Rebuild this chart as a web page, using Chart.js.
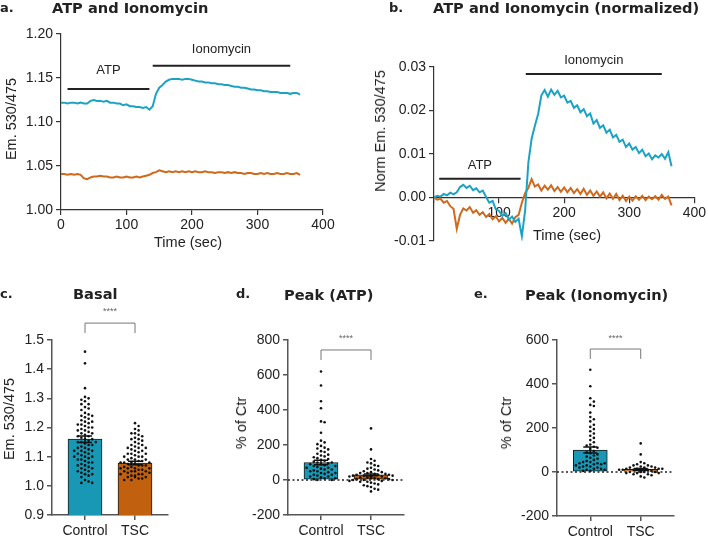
<!DOCTYPE html>
<html>
<head>
<meta charset="utf-8">
<script src="https://cdn.jsdelivr.net/npm/chart.js@4.4.1/dist/chart.umd.min.js"></script>
<style>
  body { margin: 0; background: #fff; }
  #fig { position: relative; width: 708px; height: 537px; overflow: hidden; }
  #fig canvas { position: absolute; }
  .t { position: absolute; font: bold 14.6px "DejaVu Sans"; line-height: 16px; color: #222; white-space: nowrap; }
  .ax { position: absolute; font: 14.5px "Liberation Sans"; color: #222; white-space: nowrap; transform: translate(-50%, -50%); }
  .rot { transform: translate(-50%, -50%) rotate(-90deg); }
</style>
</head>
<body>
<div id="fig">
  <canvas id="cA" width="354" height="260" style="left:0;top:0"></canvas>
  <canvas id="cB" width="354" height="260" style="left:354px;top:0"></canvas>
  <canvas id="cC" width="236" height="287" style="left:0;top:250px"></canvas>
  <canvas id="cD" width="246" height="287" style="left:226px;top:250px"></canvas>
  <canvas id="cE" width="236" height="287" style="left:472px;top:250px"></canvas>

  <div class="t" style="left:0;top:0;font-size:13px">a.</div>
  <div class="t" style="left:52px;top:0">ATP and Ionomycin</div>
  <div class="t" style="left:389px;top:0;font-size:13px">b.</div>
  <div class="t" style="left:433px;top:0">ATP and Ionomycin (normalized)</div>
  <div class="t" style="left:0;top:286px;font-size:13px">c.</div>
  <div class="t" style="left:73px;top:286px">Basal</div>
  <div class="t" style="left:236px;top:286px;font-size:13px">d.</div>
  <div class="t" style="left:284px;top:287px">Peak (ATP)</div>
  <div class="t" style="left:474px;top:286px;font-size:13px">e.</div>
  <div class="t" style="left:525px;top:287px">Peak (Ionomycin)</div>

  <div class="ax rot" style="left:11px;top:119px">Em. 530/475</div>
  <div class="ax" style="left:188px;top:242px">Time (sec)</div>
  <div class="ax rot" style="left:380px;top:131px">Norm Em. 530/475</div>
  <div class="ax" style="left:567px;top:235px">Time (sec)</div>
  <div class="ax rot" style="left:9px;top:419px">Em. 530/475</div>
  <div class="ax rot" style="left:241px;top:423px">% of Ctr</div>
  <div class="ax rot" style="left:506px;top:423px">% of Ctr</div>
</div>

<script>
// ---- traces (a, b) ----
const timeSec = [0,5,10,15,20,25,30,35,40,45,50,55,60,65,70,75,80,85,90,95,100,105,110,115,120,125,130,135,140,145,
  150,155,160,165,170,175,180,185,190,195,200,205,210,215,220,225,230,235,240,245,250,255,260,265,270,275,280,285,290,295,
  300,305,310,315,320,325,330,335,340,345,350,355,360,365];

const ctrlRaw = [1.122,1.122,1.121,1.122,1.122,1.121,1.122,1.121,1.121,1.124,
  1.125,1.124,1.124,1.123,1.124,1.122,1.122,1.121,1.121,1.119,
  1.120,1.118,1.118,1.117,1.117,1.116,1.117,1.114,1.118,1.132,
  1.139,1.142,1.146,1.148,1.149,1.149,1.149,1.148,1.149,1.149,
  1.148,1.147,1.146,1.146,1.145,1.145,1.144,1.144,1.143,1.143,
  1.142,1.142,1.141,1.140,1.140,1.139,1.139,1.138,1.137,1.137,
  1.136,1.136,1.135,1.135,1.134,1.134,1.134,1.133,1.133,1.133,
  1.132,1.133,1.133,1.131];
const tscRaw = [1.041,1.041,1.040,1.041,1.040,1.041,1.040,1.036,1.035,1.037,
  1.038,1.038,1.039,1.038,1.038,1.037,1.037,1.038,1.037,1.037,
  1.038,1.037,1.037,1.038,1.037,1.038,1.039,1.040,1.042,1.043,
  1.045,1.044,1.043,1.044,1.043,1.044,1.043,1.044,1.043,1.044,
  1.043,1.044,1.043,1.043,1.044,1.043,1.043,1.042,1.043,1.043,
  1.042,1.043,1.042,1.043,1.042,1.042,1.041,1.042,1.042,1.041,
  1.041,1.042,1.041,1.042,1.041,1.041,1.042,1.041,1.041,1.042,
  1.041,1.041,1.042,1.040];

const ctrlNorm = [0.0000,0.0004,0.0002,0.0008,0.0005,0.0011,0.0007,0.0012,0.0024,0.0029,
  0.0022,0.0027,0.0017,0.0021,0.0012,0.0016,0.0001,-0.0012,-0.0008,-0.0027,
  -0.0031,-0.0042,-0.0036,-0.0051,-0.0044,-0.0056,-0.0049,-0.0089,-0.0030,0.0080,
  0.0135,0.0165,0.0192,0.0235,0.0247,0.0232,0.0248,0.0236,0.0245,0.0230,
  0.0234,0.0218,0.0222,0.0206,0.0212,0.0196,0.0203,0.0187,0.0193,0.0170,
  0.0178,0.0160,0.0166,0.0149,0.0156,0.0138,0.0144,0.0128,0.0133,0.0116,
  0.0124,0.0110,0.0116,0.0102,0.0110,0.0095,0.0101,0.0088,0.0097,0.0092,
  0.0100,0.0089,0.0104,0.0072];
const tscNorm = [0.0000,-0.0005,-0.0003,-0.0012,-0.0008,-0.0020,-0.0026,-0.0072,-0.0040,-0.0025,
  -0.0030,-0.0022,-0.0035,-0.0029,-0.0040,-0.0034,-0.0045,-0.0038,-0.0050,-0.0043,
  -0.0055,-0.0047,-0.0058,-0.0049,-0.0060,-0.0045,-0.0040,-0.0012,0.0010,0.0022,
  0.0042,0.0025,0.0030,0.0016,0.0027,0.0018,0.0028,0.0015,0.0024,0.0013,
  0.0023,0.0012,0.0022,0.0010,0.0019,0.0008,0.0020,0.0006,0.0016,0.0004,
  0.0014,0.0002,0.0012,-0.0002,0.0009,-0.0003,0.0008,-0.0006,0.0004,-0.0008,
  0.0002,-0.0007,0.0003,-0.0005,0.0004,-0.0006,0.0002,-0.0004,0.0003,-0.0005,
  0.0006,-0.0003,0.0002,-0.0018];

// ---- per-cell values (c, d, e) ----
const groups = ['Control', 'TSC'];

const basalMean = [1.16, 1.078];
const basalSem = [0.011, 0.006];
const basalCtrl = [1.46,1.42,1.335,1.305,1.30,1.295,1.29,1.28,1.28,1.27,1.265,1.26,1.25,1.245,1.24,1.24,1.235,1.23,
  1.225,1.22,1.22,1.215,1.21,1.21,1.205,1.20,1.20,1.195,1.19,1.19,1.185,1.18,1.18,1.175,1.17,1.17,1.165,1.16,1.16,
  1.155,1.15,1.15,1.15,1.145,1.14,1.14,1.135,1.13,1.13,1.125,1.12,1.12,1.12,1.115,1.11,1.11,1.105,1.10,1.10,1.10,
  1.095,1.09,1.09,1.085,1.08,1.08,1.075,1.07,1.07,1.065,1.06,1.06,1.055,1.05,1.05,1.045,1.04,1.04,1.035,1.03,
  1.02,1.015,1.01,1.01];
const basalTsc = [1.215,1.205,1.195,1.19,1.18,1.18,1.175,1.17,1.165,1.16,1.16,1.155,1.15,1.145,1.14,1.14,1.135,1.13,
  1.13,1.13,1.125,1.12,1.12,1.115,1.11,1.11,1.11,1.105,1.10,1.10,1.10,1.095,1.09,1.09,1.09,1.085,1.085,1.08,1.08,
  1.08,1.08,1.075,1.075,1.07,1.07,1.07,1.065,1.065,1.06,1.06,1.06,1.06,1.055,1.055,1.05,1.05,1.05,1.05,1.045,1.045,
  1.04,1.04,1.04,1.035,1.035,1.03,1.03,1.03,1.025,1.025,1.02,1.02];

const atpMean = [100, 30];
const atpSem = [13, 5];
const atpCtrl = [620,540,450,410,335,330,270,225,215,205,195,185,180,175,165,160,150,145,140,135,130,125,120,115,
  110,105,100,100,95,90,90,85,80,80,75,70,70,65,60,60,55,50,50,45,40,40,35,30,30,25,20,20,15,10,10,5,0,0];
const atpTsc = [295,175,120,110,100,95,85,80,70,65,60,55,50,45,45,40,40,35,35,30,30,30,25,25,25,20,20,20,15,15,15,
  10,10,10,5,5,5,0,0,0,-5,-5,-10,-10,-15,-20,-25,-30,-35,-40,-50,-55,-65];

const ionoMean = [100, 12];
const ionoSem = [14, 4];
const ionoCtrl = [465,390,335,320,305,300,270,250,240,230,215,205,195,185,175,165,155,145,135,125,120,115,110,105,
  95,90,85,80,75,70,65,60,55,50,45,45,40,40,40,35,35,30,30,25,25,20,20,15,15,10,10,5,5];
const ionoTsc = [130,80,45,40,35,30,30,25,25,20,20,20,15,15,15,15,10,10,10,10,10,10,5,5,5,5,5,0,0,0,0,-5,-5,-5,
  -10,-10,-15,-20,-25];

const lineColors = ['#1ca2c3', '#cf6a1d'];
const barColors = ['#1898b5', '#c1600f'];

Chart.defaults.font.family = '"Liberation Sans", Arial, sans-serif';
Chart.defaults.font.size = 14;
Chart.defaults.color = '#222';
Chart.defaults.animation = false;

// horizontal treatment bars with their labels (panels a, b)
const treatmentBars = {
  id: 'treatmentBars',
  afterDatasetsDraw(chart, args, opts) {
    const { ctx, scales: { x, y } } = chart;
    ctx.save();
    ctx.strokeStyle = '#222';
    ctx.lineWidth = 2;
    ctx.fillStyle = '#222';
    ctx.font = '13px "Liberation Sans"';
    ctx.textAlign = 'center';
    ctx.textBaseline = 'middle';
    opts.items.forEach(it => {
      const yy = y.getPixelForValue(it.lineY);
      ctx.beginPath();
      ctx.moveTo(x.getPixelForValue(it.from), yy);
      ctx.lineTo(x.getPixelForValue(it.to), yy);
      ctx.stroke();
      ctx.fillText(it.label, x.getPixelForValue((it.from + it.to) / 2), y.getPixelForValue(it.textY));
    });
    ctx.restore();
  }
};

// spread dots sideways so they don't overlap (beeswarm), in pixel space
function swarm(els, gap, spread) {
  const placed = [];
  els.slice().sort((a, b) => a.y - b.y).forEach(el => {
    const cx = el.x;
    let chosen = null;
    for (let k = 0; gap * Math.ceil(k / 2) <= spread; k++) {
      const off = (k % 2 ? 1 : -1) * Math.ceil(k / 2) * gap;
      if (placed.every(p => Math.hypot(p.x - cx - off, p.y - el.y) >= gap)) { chosen = off; break; }
    }
    el.x = cx + (chosen === null ? 0 : chosen);
    placed.push(el);
  });
}

// error bars, zero line, significance bracket (panels c, d, e)
const barExtras = {
  id: 'barExtras',
  afterDatasetsUpdate(chart, args, opts) {
    chart.data.datasets.forEach((ds, i) => {
      if (ds.type === 'scatter') swarm(chart.getDatasetMeta(i).data, 3.6, opts.spread);
    });
  },
  afterDatasetsDraw(chart, args, opts) {
    const { ctx, scales: { x, y }, chartArea } = chart;
    ctx.save();
    if (opts.zeroLine) {
      const y0 = y.getPixelForValue(0);
      ctx.strokeStyle = '#222';
      ctx.lineWidth = 1.5;
      ctx.setLineDash([2, 2.5]);
      ctx.beginPath();
      ctx.moveTo(chartArea.left, y0);
      ctx.lineTo(chartArea.right, y0);
      ctx.stroke();
      ctx.setLineDash([]);
    }
    ctx.strokeStyle = '#111';
    ctx.lineWidth = 1.5;
    opts.mean.forEach((m, i) => {
      const px = x.getPixelForValue(i + 1);
      const top = y.getPixelForValue(m + opts.sem[i]);
      const bot = y.getPixelForValue(m - opts.sem[i]);
      ctx.beginPath();
      ctx.moveTo(px, top); ctx.lineTo(px, bot);
      ctx.moveTo(px - 7, top); ctx.lineTo(px + 7, top);
      ctx.moveTo(px - 7, bot); ctx.lineTo(px + 7, bot);
      ctx.stroke();
    });
    // bracket
    const x1 = x.getPixelForValue(1), x2 = x.getPixelForValue(2);
    const yb = y.getPixelForValue(opts.bracket[0]), yt = y.getPixelForValue(opts.bracket[1]);
    ctx.strokeStyle = '#777';
    ctx.lineWidth = 1;
    ctx.beginPath();
    ctx.moveTo(x1, yt); ctx.lineTo(x1, yb); ctx.lineTo(x2, yb); ctx.lineTo(x2, yt);
    ctx.stroke();
    ctx.fillStyle = '#666';
    ctx.font = '9px "Liberation Sans"';
    ctx.textAlign = 'center';
    ctx.textBaseline = 'middle';
    ctx.fillText('****', (x1 + x2) / 2, y.getPixelForValue(opts.bracket[2]));
    ctx.restore();
  }
};

function axis(color, width, extra) {
  return Object.assign({
    grid: { drawOnChartArea: false, tickLength: 5, color: color, lineWidth: width, offset: false },
    border: { color: color, width: width }
  }, extra);
}

function traceChart(id, series, pad, yOpts, xOpts, items) {
  return new Chart(document.getElementById(id), {
    type: 'line',
    data: {
      datasets: series.map((vals, i) => ({
        data: timeSec.map((t, k) => ({ x: t, y: vals[k] })),
        borderColor: lineColors[i],
        borderWidth: 2,
        pointRadius: 0,
        tension: 0
      }))
    },
    options: {
      responsive: false,
      layout: { padding: pad },
      plugins: { legend: { display: false }, tooltip: { enabled: false }, treatmentBars: { items: items } },
      scales: { x: xOpts, y: yOpts }
    },
    plugins: [treatmentBars]
  });
}

// a.
traceChart('cA', [ctrlRaw, tscRaw], { top: 34, right: 31, left: 0, bottom: 0 },
  axis('#333', 1.2, {
    min: 1.0, max: 1.2,
    ticks: { stepSize: 0.05, padding: 3, callback: v => v.toFixed(2) },
    afterFit: s => { s.width = 61; s.paddingTop = 0; s.paddingBottom = 0; }
  }),
  axis('#333', 1.2, {
    type: 'linear', min: 0, max: 400,
    ticks: { stepSize: 100, padding: 2, maxRotation: 0 },
    afterFit: s => { s.height = 50; s.paddingLeft = 0; s.paddingRight = 0; }
  }),
  [{ label: 'ATP', from: 10, to: 135, lineY: 1.1375, textY: 1.159 },
   { label: 'Ionomycin', from: 140, to: 350, lineY: 1.164, textY: 1.183 }]);

// b.
traceChart('cB', [ctrlNorm, tscNorm], { top: 67, right: 10, left: 0, bottom: 19 },
  axis('#333', 1.2, {
    min: -0.01, max: 0.03,
    ticks: { stepSize: 0.01, padding: 3, callback: v => v.toFixed(2) },
    afterFit: s => { s.width = 80; s.paddingTop = 0; s.paddingBottom = 0; }
  }),
  axis('#333', 1.2, {
    type: 'linear', min: 0, max: 400, position: { y: 0 },
    ticks: { stepSize: 100, padding: 2, maxRotation: 0, callback: v => (v === 0 ? '' : v) }
  }),
  [{ label: 'ATP', from: 8, to: 133, lineY: 0.0043, textY: 0.0073 },
   { label: 'Ionomycin', from: 141, to: 350, lineY: 0.0284, textY: 0.0314 }]);

function dotChart(id, ctrl, tsc, mean, sem, pad, yWidth, xHeight, yOpts, extras) {
  return new Chart(document.getElementById(id), {
    type: 'bar',
    data: {
      datasets: [
        { type: 'scatter', order: 1, data: ctrl.map(v => ({ x: 1, y: v })), pointRadius: 1.3, backgroundColor: '#111', borderWidth: 0 },
        { type: 'scatter', order: 1, data: tsc.map(v => ({ x: 2, y: v })), pointRadius: 1.3, backgroundColor: '#111', borderWidth: 0 },
        { type: 'bar', order: 2, data: mean.map((m, i) => ({ x: i + 1, y: m })), backgroundColor: barColors,
          borderColor: '#1a1a1a', borderWidth: 1, borderSkipped: false, barThickness: 34 }
      ]
    },
    options: {
      responsive: false,
      layout: { padding: pad },
      plugins: { legend: { display: false }, tooltip: { enabled: false }, barExtras: Object.assign({ mean: mean, sem: sem }, extras) },
      scales: {
        x: axis('#555', 1.5, {
          type: 'linear', min: 0.34, max: 2.66, offset: false,
          afterBuildTicks: s => { s.ticks = [{ value: 1 }, { value: 2 }]; },
          ticks: { padding: 3, maxRotation: 0, autoSkip: false, callback: v => groups[v - 1] },
          afterFit: s => { s.height = xHeight; s.paddingLeft = 0; s.paddingRight = 0; }
        }),
        y: axis('#555', 1.5, Object.assign({
          afterFit: s => { s.width = yWidth; s.paddingTop = 0; s.paddingBottom = 0; }
        }, yOpts))
      }
    },
    plugins: [barExtras]
  });
}

// c.
dotChart('cC', basalCtrl, basalTsc, basalMean, basalSem, { top: 90, right: 68, left: 0, bottom: 0 }, 52, 22,
  { min: 0.9, max: 1.5, ticks: { stepSize: 0.1, padding: 3, callback: v => v.toFixed(1) } },
  { spread: 16, zeroLine: false, bracket: [1.558, 1.524, 1.596] });

// d.
dotChart('cD', atpCtrl, atpTsc, atpMean, atpSem, { top: 90, right: 68, left: 0, bottom: 0 }, 62, 22,
  { min: -200, max: 800, ticks: { stepSize: 200, padding: 3 } },
  { spread: 22, zeroLine: true, bracket: [743, 686, 806] });

// e.
dotChart('cE', ionoCtrl, ionoTsc, ionoMean, ionoSem, { top: 90, right: 34, left: 0, bottom: 0 }, 85, 21,
  { min: -200, max: 600, ticks: { stepSize: 200, padding: 3 } },
  { spread: 22, zeroLine: true, bracket: [559, 514, 609] });
</script>
</body>
</html>
